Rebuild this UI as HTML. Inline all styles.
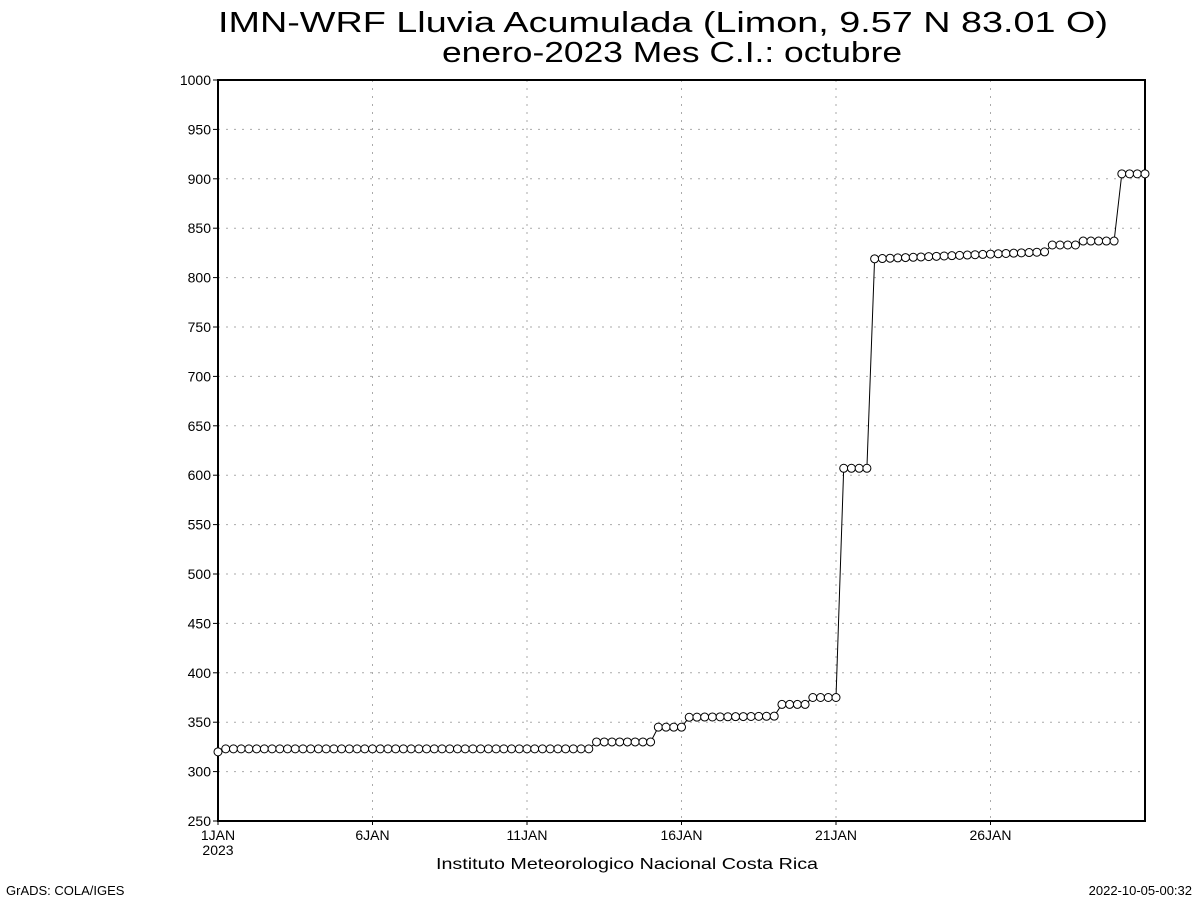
<!DOCTYPE html>
<html><head><meta charset="utf-8"><style>
html,body{margin:0;padding:0;background:#fff;}
svg{display:block;font-family:"Liberation Sans","DejaVu Sans",sans-serif;}
</style></head><body>
<svg id="s" width="1200" height="900" viewBox="0 0 1200 900" xmlns="http://www.w3.org/2000/svg">
<rect width="1200" height="900" fill="#fff"/>
<text x="663" y="32" font-size="29" font-weight="300" text-anchor="middle" textLength="890" lengthAdjust="spacingAndGlyphs">IMN-WRF  Lluvia Acumulada  (Limon, 9.57  N 83.01  O)</text>
<text x="672" y="62" font-size="29" text-anchor="middle" textLength="460" lengthAdjust="spacingAndGlyphs">enero-2023 Mes C.I.: octubre</text>
<g id="grid"></g>
<rect x="218" y="80" width="927" height="741" fill="none" stroke="#000" stroke-width="2"/>
<g id="ax" font-size="14"></g>
<polyline id="ln" fill="none" stroke="#000" stroke-width="1"/>
<g id="mk" fill="#fff" stroke="#000" stroke-width="1"></g>
<text x="627" y="869" font-size="16" text-anchor="middle" textLength="382" lengthAdjust="spacingAndGlyphs">Instituto Meteorologico Nacional Costa Rica</text>
<text x="6" y="895" font-size="13">GrADS: COLA/IGES</text>
<text x="1192" y="895" font-size="13" text-anchor="end">2022-10-05-00:32</text>
</svg>
<script>
var NS="http://www.w3.org/2000/svg";
function el(p,t,a,txt){var e=document.createElementNS(NS,t);for(var k in a)e.setAttribute(k,a[k]);if(txt!=null)e.textContent=txt;document.getElementById(p).appendChild(e);return e;}
function Y(v){return 821-(v-250)*741/750;}
for(var v=250;v<=1000;v+=50){var y=Y(v);
 if(v>250&&v<1000)el("grid","line",{x1:218,x2:1145,y1:y,y2:y,stroke:"#aaa","stroke-dasharray":"2,6"});
 el("ax","line",{x1:213,x2:218,y1:y,y2:y,stroke:"#000"});
 el("ax","text",{x:211,y:y+5,"text-anchor":"end"},String(v));}
var labs=["1JAN","6JAN","11JAN","16JAN","21JAN","26JAN"];
for(var d=0;d<30;d+=5){var x=218+d*30.9;
 if(d>0)el("grid","line",{x1:x,x2:x,y1:80,y2:821,stroke:"#aaa","stroke-dasharray":"2,6"});
 el("ax","line",{x1:x,x2:x,y1:821,y2:825,stroke:"#000"});
 el("ax","text",{x:x,y:840,"text-anchor":"middle"},labs[d/5]);}
el("ax","text",{x:218,y:855,"text-anchor":"middle"},"2023");
var vals=[];
for(var i=0;i<=120;i++){var v;
 if(i==0)v=320;else if(i<=48)v=323;else if(i<=56)v=330;else if(i<=60)v=345;else if(i<=72)v=355+(i-61)*0.1;
 else if(i<=76)v=368;else if(i<=80)v=375;else if(i<=84)v=607;else if(i<=107)v=819+(i-85)*7/22;
 else if(i<=111)v=833;else if(i<=116)v=837;else v=905;vals.push(v);}
var pts=[];
for(var i=0;i<=120;i++){var x=218+i*927/120,y=Y(vals[i]);pts.push(x.toFixed(1)+","+y.toFixed(1));
 el("mk","circle",{cx:x,cy:y,r:4});}
document.getElementById("ln").setAttribute("points",pts.join(" "));
</script>
</body></html>
